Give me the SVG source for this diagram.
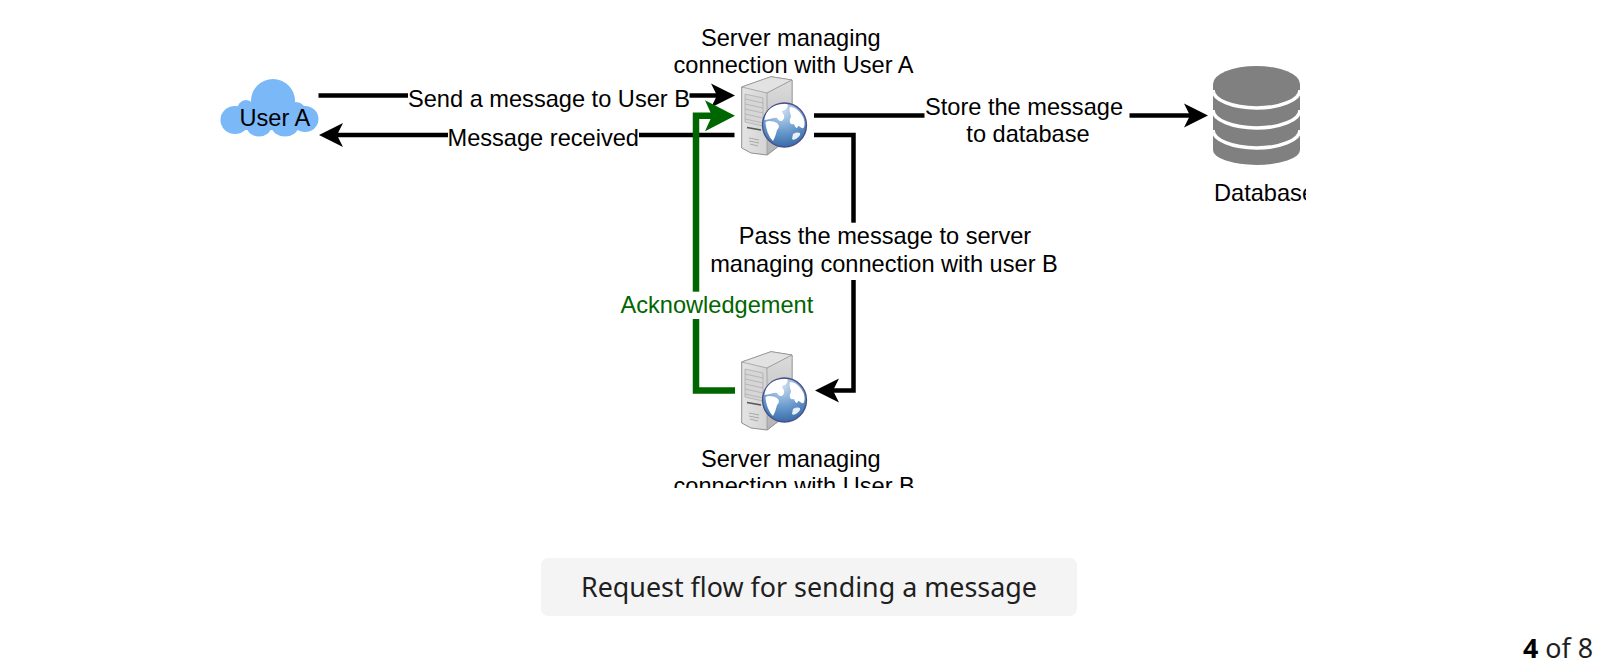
<svg xmlns="http://www.w3.org/2000/svg" xmlns:xlink="http://www.w3.org/1999/xlink" width="1619" height="671" viewBox="0 0 1619 671">
<style>
text{font-family:"Liberation Sans",Arial,sans-serif;font-size:23.6px;fill:#000}
.cap{font-family:"Noto Sans",sans-serif;fill:#1f1f1f}
.line{fill:none;stroke:#000;stroke-width:4.5}
.ack{fill:none;stroke:#006600;stroke-width:6.5}
.bg{fill:#fff}
.cloud{fill:#7ab8f8}
</style>
<defs>
<clipPath id="clip"><rect x="0" y="0" width="1306" height="488"/></clipPath>
<marker id="ah" markerUnits="userSpaceOnUse" markerWidth="26" markerHeight="26" viewBox="0 -13 26 26" refX="6" refY="0" orient="auto"><path d="M0,-12 L24,0 L0,12 L6,0Z" fill="#000"/></marker>
<marker id="ahg" markerUnits="userSpaceOnUse" markerWidth="34" markerHeight="34" viewBox="0 -17 34 34" refX="7" refY="0" orient="auto"><path d="M0,-15.500 L30,0 L0,15.500 L7,0Z" fill="#006600"/></marker>
<linearGradient id="front" x1="0" y1="0" x2="1" y2="0"><stop offset="0" stop-color="#e4e4e4"/><stop offset="1" stop-color="#c4c4c4"/></linearGradient>
<linearGradient id="side" x1="0" y1="0" x2="0" y2="1"><stop offset="0" stop-color="#dcdcdc"/><stop offset="1" stop-color="#b4b4b4"/></linearGradient>
<radialGradient id="globe" cx="0.45" cy="0.15" r="0.95"><stop offset="0" stop-color="#cfe0f2"/><stop offset="0.5" stop-color="#6f9fd0"/><stop offset="1" stop-color="#2a5f9f"/></radialGradient>
<g id="server">
<path d="M0.7,11 L30,0.7 L51,4 L51,60 L26,79 L10,77 L0.7,72Z" fill="url(#front)" stroke="#777" stroke-width="0.8"/>
<path d="M0.7,11 L30,0.7 L51,4 L26,17Z" fill="#e2e2e2" stroke="#8a8a8a" stroke-width="0.6"/>
<path d="M26,17 L51,4 L51,60 L26,79Z" fill="url(#side)" stroke="#8a8a8a" stroke-width="0.6"/>
<path d="M4,18 L22,22 V50 L4,46Z" fill="#d6d6d6" stroke="#a0a0a0" stroke-width="0.6"/>
<path d="M4,23 L22,27 M4,28 L22,32 M4,33 L22,37 M4,38 L22,42 M4,43 L22,47" stroke="#a8a8a8" stroke-width="0.7" fill="none"/>
<path d="M6,51.500 L20,54" stroke="#555" stroke-width="1.600"/>
<path d="M8,62 L18,64 M8,65 L18,67 M9,68 L17,70" stroke="#999" stroke-width="0.800"/>
<circle cx="43.500" cy="49" r="22" fill="url(#globe)" stroke="#4a4f86" stroke-width="1.300"/>
<path d="M30,32 C34,29 40,27.500 46,28 C48,31 45,34 41,35 C41,37 44,39 43,42 C41,47 38,45 36,42 C33,41 29,44 23.500,44 C24,39 26,35 30,32Z" fill="#fff"/>
<path d="M24.500,46 C28,44 33,45.500 36,47 C39,50 38,52 36,54 C35,59 33,63 32,65 C28,61 25,54 24.500,46Z" fill="#fff"/>
<path d="M49,31 C54,31 59,35 62,41 C64,45 64,50 62.500,52 C60,53 59,50 57,50 C56,54 54,51 53,48 C50,49 48,47 49,43 C52,40 47,36 49,31Z" fill="#fff"/>
<path d="M52,58 C56,56 60,56 59,59 C57,62 53,65 51,63Z" fill="#e8eff7"/>
</g>
</defs>
<rect width="1619" height="671" fill="#fff"/>
<g clip-path="url(#clip)">
<g id="connectors">
<path class="line" d="M318.500,95.500 H717" marker-end="url(#ah)"/>
<path class="line" d="M734.500,135 H337" marker-end="url(#ah)"/>
<path class="line" d="M814,115.500 H1190" marker-end="url(#ah)"/>
<path class="line" d="M814,135 H853.500 V390.500 H833" marker-end="url(#ah)"/>
<rect class="bg" x="408" y="84" width="281.500" height="28"/>
<text x="408" y="107">Send a message to User B</text>
<rect class="bg" x="448" y="124" width="191" height="26"/>
<text x="447.500" y="145.500">Message received</text>
<rect class="bg" x="924.500" y="92" width="205" height="58"/>
<text x="1024" y="115" text-anchor="middle">Store the message</text>
<text x="1028" y="142" text-anchor="middle">to database</text>
<rect class="bg" x="711" y="222.700" width="346" height="57.300"/>
<text x="885" y="244" text-anchor="middle">Pass the message to server</text>
<text x="884" y="271.500" text-anchor="middle">managing connection with user B</text>
<path class="ack" d="M735,390.500 H696 V115.700 H712" marker-end="url(#ahg)"/>
<rect class="bg" x="620" y="291.700" width="193" height="27.300"/>
<text x="620.500" y="313" style="fill:#006600">Acknowledgement</text>
</g>
<g id="user-a">
<circle class="cloud" cx="273" cy="101" r="22"/>
<ellipse class="cloud" cx="235" cy="120" rx="14.500" ry="14"/>
<ellipse class="cloud" cx="246" cy="110" rx="9" ry="10"/>
<ellipse class="cloud" cx="305" cy="119" rx="13.500" ry="13"/>
<ellipse class="cloud" cx="296" cy="112" rx="10" ry="10"/>
<ellipse class="cloud" cx="259" cy="127" rx="12" ry="9.500"/>
<ellipse class="cloud" cx="285" cy="127" rx="13" ry="9.500"/>
<rect class="cloud" x="240" y="108" width="62" height="22"/>
<text x="239.500" y="126">User A</text>
</g>
<g id="server-a">
<use xlink:href="#server" href="#server" x="741" y="76"/>
<text x="701" y="46">Server managing</text>
<text x="673.500" y="73">connection with User A</text>
</g>
<g id="server-b">
<use xlink:href="#server" href="#server" x="741" y="351"/>
<text x="701" y="466.500">Server managing</text>
<text x="673.500" y="493.500">connection with User B</text>
</g>
<g id="database">
<path d="M1213,84 A43.500,18 0 0 1 1300,84 V150 A43.500,15 0 0 1 1213,150Z" fill="#808080"/>
<path d="M1213,90 A43.500,18 0 0 0 1300,90 M1213,110 A43.500,18 0 0 0 1300,110 M1213,130 A43.500,18 0 0 0 1300,130" fill="none" stroke="#fff" stroke-width="3.500"/>
<text x="1214" y="201">Database</text>
</g>
</g>
<g id="caption">
<rect x="541" y="558" width="536" height="58" rx="7" fill="#f4f4f4"/>
<text class="cap" x="581" y="596.500" style="font-size:26.850px">Request flow for sending a message</text>
</g>
<g id="pager">
<text class="cap" x="1523" y="658" style="font-size:26.850px"><tspan font-weight="700" style="fill:#000">4</tspan> of 8</text>
</g>
</svg>
